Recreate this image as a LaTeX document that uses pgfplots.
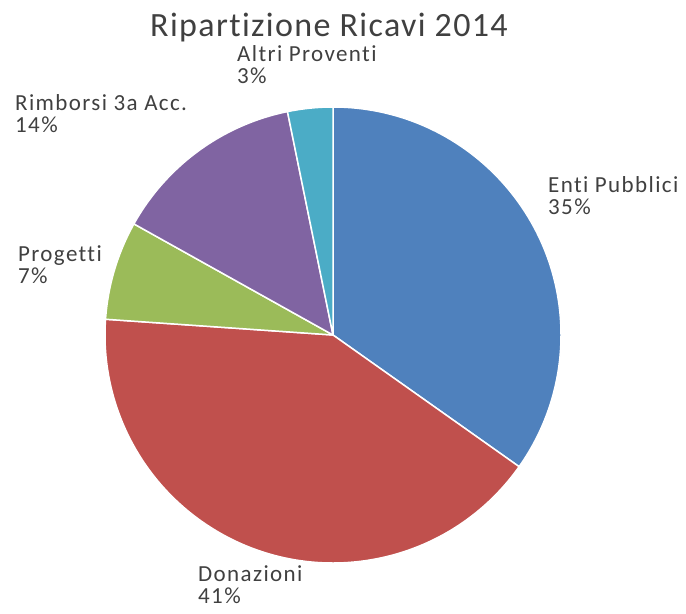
\documentclass[border=0pt]{standalone}
\usepackage{pgfplots}
\pgfplotsset{compat=1.18}
\usepackage{pgfplotstable}
\usepackage{fontspec}
\setmainfont{Carlito}[Ligatures=NoCommon]

\definecolor{c0}{HTML}{4F81BD}
\definecolor{c1}{HTML}{C0504D}
\definecolor{c2}{HTML}{9BBB59}
\definecolor{c3}{HTML}{8064A2}
\definecolor{c4}{HTML}{4BACC6}
\definecolor{txt}{HTML}{404040}

% slice values (percent, read off the angles) and where Excel put the labels
% (baseline of the first line)
\pgfplotstableread[col sep=comma]{
name,value,lx,ly
Enti Pubblici,34.8,548,421
Donazioni,41.3,198,32
Progetti,7.0,18,352
Rimborsi 3a Acc.,13.7,15,503
Altri Proventi,3.2,237,552
}\ricavi

% start/end angles, clockwise from 12 o'clock, plus label texts as globals
% (axis drawing is deferred, so everything it needs must live in macros)
\def\acc{90}
\pgfplotsforeachungrouped \i in {0,...,4}{%
  \pgfplotstablegetelem{\i}{value}\of\ricavi
  \pgfmathsetmacro\angb{\acc-3.6*\pgfplotsretval}%
  \expandafter\xdef\csname sa\i\endcsname{\acc}%
  \expandafter\xdef\csname sb\i\endcsname{\angb}%
  \xdef\acc{\angb}%
  \expandafter\xdef\csname vl\i\endcsname{\pgfplotsretval}%
  \pgfplotstablegetelem{\i}{name}\of\ricavi
  \expandafter\xdef\csname nm\i\endcsname{\pgfplotsretval}%
  \pgfplotstablegetelem{\i}{lx}\of\ricavi
  \expandafter\xdef\csname lx\i\endcsname{\pgfplotsretval}%
  \pgfplotstablegetelem{\i}{ly}\of\ricavi
  \expandafter\xdef\csname ly\i\endcsname{\pgfplotsretval}%
}

\tikzset{lbl/.style={anchor=base west, inner sep=0pt, text=txt,
  font=\fontsize{23bp}{22bp}\selectfont\addfontfeature{LetterSpace=6}}}

\begin{document}
\begin{tikzpicture}
\begin{axis}[
    hide axis,
    x=1bp, y=1bp,
    xmin=0, xmax=686,
    ymin=0, ymax=614,
    clip=false,
]
\pgfplotsinvokeforeach{0,...,4}{
  \fill[c#1, draw=white, line width=1.5bp, line join=round]
    (axis cs:333,279) -- +(\csname sa#1\endcsname:228bp)
    arc[start angle=\csname sa#1\endcsname, end angle=\csname sb#1\endcsname, radius=228bp]
    -- cycle;
  \node[lbl] at (axis cs:\csname lx#1\endcsname,\csname ly#1\endcsname)
    {\csname nm#1\endcsname};
  \node[lbl] at (axis cs:\csname lx#1\endcsname,\csname ly#1\endcsname-22)
    {\pgfmathprintnumber[fixed, precision=0, assume math mode=true]{\csname vl#1\endcsname}\%};
}
\node[anchor=base, inner sep=0pt, text=txt,
      font=\fontsize{34bp}{36bp}\selectfont\addfontfeature{LetterSpace=4}]
  at (axis cs:329,577) {Ripartizione Ricavi 2014};
\end{axis}
\pgfresetboundingbox
\path (current axis.south west) rectangle (current axis.north east);
\end{tikzpicture}
\end{document}
